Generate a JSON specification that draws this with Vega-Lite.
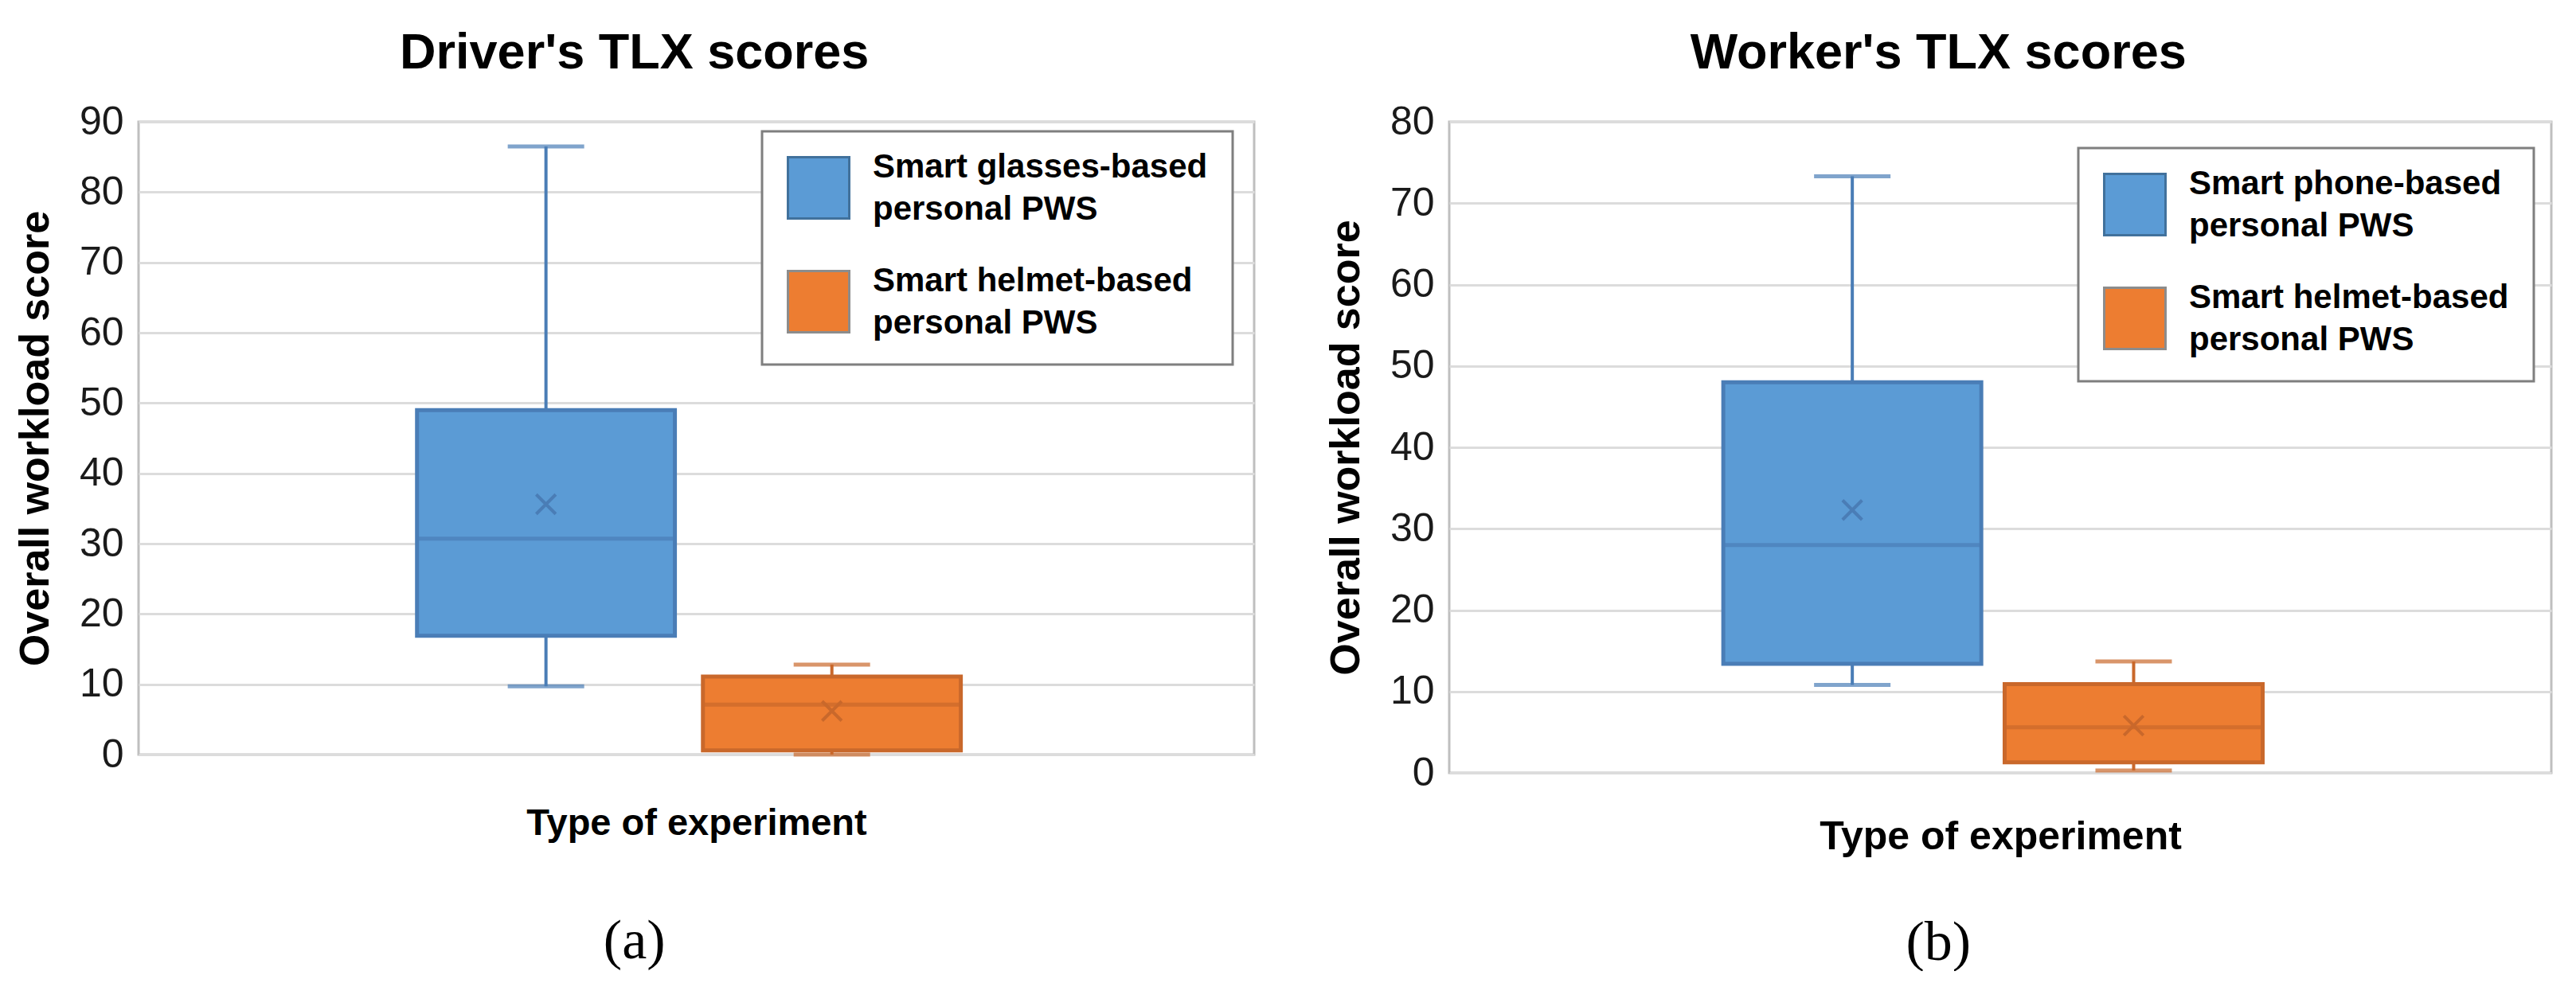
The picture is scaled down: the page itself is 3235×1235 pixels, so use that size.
{
  "$schema": "https://vega.github.io/schema/vega-lite/v6.json",
  "background": "white",
  "padding": {"left": 16, "top": 34, "right": 0, "bottom": 0},
  "spacing": 85,
  "config": {
    "font": "Liberation Sans",
    "view": {"stroke": "#BFBFBF", "strokeWidth": 3},
    "axisY": {"grid": true, "gridColor": "#DCDCDC", "gridWidth": 3, "domain": false, "ticks": false, "labelFont": "Liberation Sans", "labelFontSize": 50, "labelColor": "#1A1A1A", "labelPadding": 19, "titleFont": "Liberation Sans", "titleFontSize": 52, "titleFontWeight": "bold", "titleColor": "#000000", "titlePadding": 28},
    "axisX": {"labels": false, "ticks": false, "domain": false, "grid": false, "titleFont": "Liberation Sans", "titleFontSize": 50, "titleFontWeight": "bold", "titleColor": "#000000"},
    "title": {"font": "Liberation Sans", "fontSize": 63, "fontWeight": "bold", "color": "#000000", "anchor": "middle", "frame": "bounds", "offset": 29},
    "legend": {"orient": "none", "padding": 31, "strokeColor": "#7F7F7F", "fillColor": "#FFFFFF", "labelFont": "Liberation Sans", "labelFontSize": 42, "labelFontWeight": "bold", "labelColor": "#000000", "labelLimit": 0, "labelOffset": 28, "symbolType": "square", "symbolSize": 5929, "rowPadding": 48}
  },
  "resolve": {"scale": {"fill": "independent", "stroke": "independent", "y": "independent", "x": "independent"}, "legend": {"fill": "independent"}},
  "hconcat": [
    {
      "title": {"text": "(a)", "orient": "bottom", "font": "Liberation Serif", "fontSize": 70, "fontWeight": "normal", "offset": 90},
      "resolve": {"scale": {"fill": "independent", "stroke": "independent"}, "legend": {"fill": "independent"}},
      "vconcat": [
        {
          "width": 1401,
          "height": 795,
          "title": {"text": "Driver's TLX scores"},
          "data": {"values": [
            {"series": "Smart glasses-based personal PWS", "min": 9.7, "q1": 16.9, "median": 30.7, "q3": 49.0, "max": 86.5, "mean": 35.6},
            {"series": "Smart helmet-based personal PWS", "min": 0.0, "q1": 0.6, "median": 7.1, "q3": 11.1, "max": 12.8, "mean": 6.2}
          ]},
          "encoding": {
            "x": {"field": "series", "type": "nominal", "sort": null, "scale": {"paddingInner": 0.098, "paddingOuter": 1.017, "align": 0.487}, "axis": {"title": "Type of experiment", "titlePadding": 63, "titleFontSize": 47}}
          },
          "layer": [
            {"mark": {"type": "rule", "strokeWidth": 4},
             "encoding": {
               "y": {"field": "min", "type": "quantitative", "scale": {"domain": [0, 90], "nice": false}, "axis": {"title": "Overall workload score", "values": [0, 10, 20, 30, 40, 50, 60, 70, 80, 90]}},
               "y2": {"field": "max"},
               "stroke": {"field": "series", "type": "nominal", "scale": {"domain": ["Smart helmet-based personal PWS", "Smart glasses-based personal PWS"], "range": ["#C9682B", "#4A7DB6"]}, "legend": null}
             }},
            {"mark": {"type": "bar", "strokeWidth": 5},
             "encoding": {
               "y": {"field": "q1", "type": "quantitative"},
               "y2": {"field": "q3"},
               "fill": {"field": "series", "type": "nominal", "scale": {"domain": ["Smart glasses-based personal PWS", "Smart helmet-based personal PWS"], "range": ["#5B9BD5", "#ED7D31"]},
                 "legend": {"title": null, "orient": "none", "legendX": 783, "legendY": 12, "symbolType": "square",
                   "labelExpr": "[replace(datum.label, ' personal PWS', ''), 'personal PWS']",
                   "encode": {
                     "legend": {"update": {"strokeWidth": {"value": 3}}},
                     "labels": {"update": {"lineHeight": {"value": 53}, "dy": {"value": -26}}},
                     "symbols": {"update": {"stroke": {"signal": "datum.value == 'Smart helmet-based personal PWS' ? '#8C8C8C' : '#41719C'"}, "strokeWidth": {"value": 3}}}
                   }}},
               "stroke": {"field": "series", "type": "nominal", "legend": null}
             }},
            {"mark": {"type": "tick", "size": 317, "thickness": 1, "filled": false, "strokeWidth": 4},
             "encoding": {
               "y": {"field": "median", "type": "quantitative"},
               "stroke": {"field": "series", "type": "nominal", "legend": null}
             }},
            {"mark": {"type": "tick", "size": 92, "thickness": 1, "filled": false, "strokeWidth": 4},
             "encoding": {
               "y": {"field": "max", "type": "quantitative"},
               "stroke": {"field": "series", "type": "nominal", "legend": null}
             }},
            {"mark": {"type": "tick", "size": 92, "thickness": 1, "filled": false, "strokeWidth": 4},
             "encoding": {
               "y": {"field": "min", "type": "quantitative"},
               "stroke": {"field": "series", "type": "nominal", "legend": null}
             }},
            {"mark": {"type": "point", "shape": "M-1,-1L1,1M-1,1L1,-1", "filled": false, "size": 600, "strokeWidth": 4, "opacity": 1},
             "encoding": {
               "y": {"field": "mean", "type": "quantitative"},
               "stroke": {"field": "series", "type": "nominal", "legend": null}
             }}
          ]
        }
      ]
    },
    {
      "title": {"text": "(b)", "orient": "bottom", "font": "Liberation Serif", "fontSize": 70, "fontWeight": "normal", "offset": 73},
      "resolve": {"scale": {"fill": "independent", "stroke": "independent"}, "legend": {"fill": "independent"}},
      "vconcat": [
        {
          "width": 1384,
          "height": 818,
          "title": {"text": "Worker's TLX scores"},
          "data": {"values": [
            {"series": "Smart phone-based personal PWS", "min": 10.8, "q1": 13.4, "median": 28.0, "q3": 48.0, "max": 73.3, "mean": 32.3},
            {"series": "Smart helmet-based personal PWS", "min": 0.3, "q1": 1.3, "median": 5.6, "q3": 10.9, "max": 13.7, "mean": 5.8}
          ]},
          "encoding": {
            "x": {"field": "series", "type": "nominal", "sort": null, "scale": {"paddingInner": 0.083, "paddingOuter": 1.018, "align": 0.487}, "axis": {"title": "Type of experiment", "titlePadding": 55}}
          },
          "layer": [
            {"mark": {"type": "rule", "strokeWidth": 4},
             "encoding": {
               "y": {"field": "min", "type": "quantitative", "scale": {"domain": [0, 80], "nice": false}, "axis": {"title": "Overall workload score", "values": [0, 10, 20, 30, 40, 50, 60, 70, 80]}},
               "y2": {"field": "max"},
               "stroke": {"field": "series", "type": "nominal", "scale": {"domain": ["Smart helmet-based personal PWS", "Smart phone-based personal PWS"], "range": ["#C9682B", "#4A7DB6"]}, "legend": null}
             }},
            {"mark": {"type": "bar", "strokeWidth": 5},
             "encoding": {
               "y": {"field": "q1", "type": "quantitative"},
               "y2": {"field": "q3"},
               "fill": {"field": "series", "type": "nominal", "scale": {"domain": ["Smart phone-based personal PWS", "Smart helmet-based personal PWS"], "range": ["#5B9BD5", "#ED7D31"]},
                 "legend": {"title": null, "orient": "none", "legendX": 790, "legendY": 33, "symbolType": "square",
                   "labelExpr": "[replace(datum.label, ' personal PWS', ''), 'personal PWS']",
                   "encode": {
                     "legend": {"update": {"strokeWidth": {"value": 3}}},
                     "labels": {"update": {"lineHeight": {"value": 53}, "dy": {"value": -26}}},
                     "symbols": {"update": {"stroke": {"signal": "datum.value == 'Smart helmet-based personal PWS' ? '#8C8C8C' : '#41719C'"}, "strokeWidth": {"value": 3}}}
                   }}},
               "stroke": {"field": "series", "type": "nominal", "legend": null}
             }},
            {"mark": {"type": "tick", "size": 317, "thickness": 1, "filled": false, "strokeWidth": 4},
             "encoding": {
               "y": {"field": "median", "type": "quantitative"},
               "stroke": {"field": "series", "type": "nominal", "legend": null}
             }},
            {"mark": {"type": "tick", "size": 92, "thickness": 1, "filled": false, "strokeWidth": 4},
             "encoding": {
               "y": {"field": "max", "type": "quantitative"},
               "stroke": {"field": "series", "type": "nominal", "legend": null}
             }},
            {"mark": {"type": "tick", "size": 92, "thickness": 1, "filled": false, "strokeWidth": 4},
             "encoding": {
               "y": {"field": "min", "type": "quantitative"},
               "stroke": {"field": "series", "type": "nominal", "legend": null}
             }},
            {"mark": {"type": "point", "shape": "M-1,-1L1,1M-1,1L1,-1", "filled": false, "size": 600, "strokeWidth": 4, "opacity": 1},
             "encoding": {
               "y": {"field": "mean", "type": "quantitative"},
               "stroke": {"field": "series", "type": "nominal", "legend": null}
             }}
          ]
        }
      ]
    }
  ]
}
